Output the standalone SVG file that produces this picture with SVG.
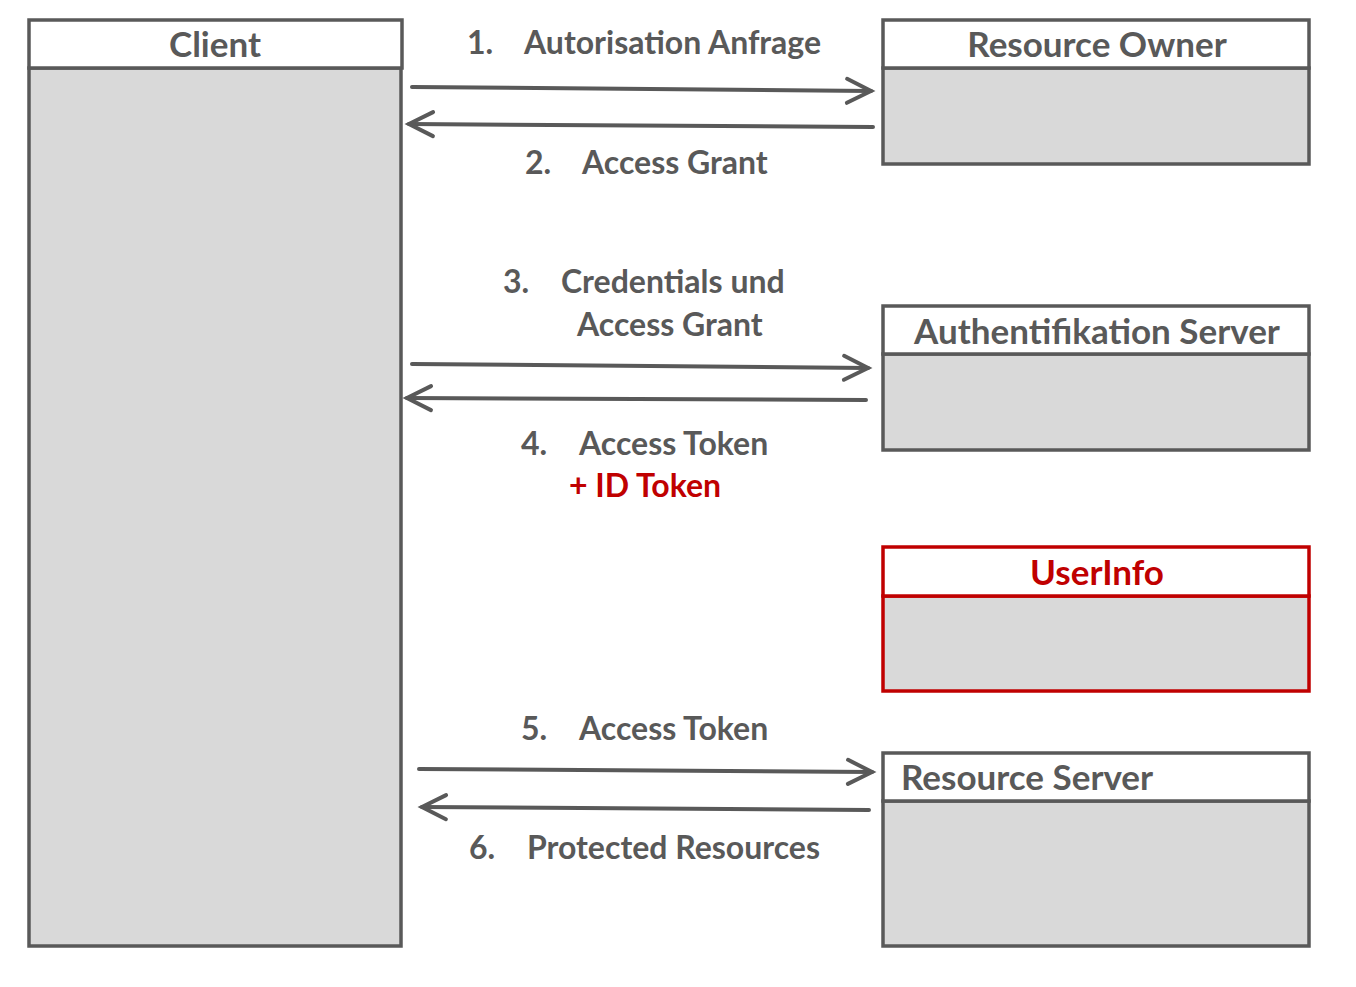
<svg xmlns="http://www.w3.org/2000/svg" width="1356" height="987" viewBox="0 0 1356 987">
<style>
.hdr{fill:#ffffff;stroke:#595959;stroke-width:3.5}
.body{fill:#d9d9d9;stroke:#595959;stroke-width:3.5}
.rhdr{fill:#ffffff;stroke:#c00000;stroke-width:3.5}
.rbody{fill:#d9d9d9;stroke:#c00000;stroke-width:3.5}
text{font-family:Lato,"Open Sans","Liberation Sans",sans-serif;font-weight:bold;font-size:32px;fill:#595959}
.h{font-size:35px}
.red{fill:#c00000}
.c{text-anchor:middle}
.conn{fill:none;stroke:#595959;stroke-width:4;stroke-linecap:round}
</style>
<defs>
<marker id="arr" markerUnits="userSpaceOnUse" viewBox="-30 -16 34 32" refX="0" refY="0" markerWidth="34" markerHeight="32" orient="auto" overflow="visible">
<path d="M-24,-12 L0,0 L-24,12" fill="none" stroke="#595959" stroke-width="4" stroke-linecap="round" stroke-linejoin="miter"/>
</marker>
</defs>

<g id="client">
<rect class="body" x="29" y="68" width="372" height="878"/>
<rect class="hdr" x="29" y="20" width="373" height="48"/>
<text class="c h" x="215" y="57">Client</text>
</g>

<g id="resource-owner">
<rect class="body" x="883" y="68" width="426" height="96"/>
<rect class="hdr" x="883" y="20" width="426" height="48"/>
<text class="c h" x="1097" y="57">Resource Owner</text>
</g>

<g id="auth-server">
<rect class="body" x="883" y="354" width="426" height="96"/>
<rect class="hdr" x="883" y="306" width="426" height="48"/>
<text class="c h" x="1097" y="344">Authentifikation Server</text>
</g>

<g id="userinfo">
<rect class="rbody" x="883" y="596" width="426" height="95"/>
<rect class="rhdr" x="883" y="547" width="426" height="49"/>
<text class="c h red" x="1097" y="585">UserInfo</text>
</g>

<g id="resource-server">
<rect class="body" x="883" y="801" width="426" height="145"/>
<rect class="hdr" x="883" y="753" width="426" height="48"/>
<text class="h" x="901" y="790">Resource Server</text>
</g>

<g id="connectors">
<line class="conn" x1="412" y1="87" x2="871" y2="91" marker-end="url(#arr)"/>
<line class="conn" x1="873" y1="127" x2="409" y2="124" marker-end="url(#arr)"/>
<line class="conn" x1="412" y1="364" x2="868" y2="368" marker-end="url(#arr)"/>
<line class="conn" x1="866" y1="400" x2="407" y2="398" marker-end="url(#arr)"/>
<line class="conn" x1="419" y1="769" x2="872" y2="772" marker-end="url(#arr)"/>
<line class="conn" x1="869" y1="810" x2="422" y2="807" marker-end="url(#arr)"/>
</g>

<g id="labels">
<text x="467" y="54">1.</text><text x="524" y="54">Autorisation Anfrage</text>
<text x="525" y="174">2.</text><text x="582" y="174">Access Grant</text>
<text x="503" y="293">3.</text><text x="561" y="293">Credentials und</text>
<text x="577" y="336">Access Grant</text>
<text x="521" y="455">4.</text><text x="579" y="455">Access Token</text>
<text class="red" x="569" y="497">+ ID Token</text>
<text x="521" y="740">5.</text><text x="579" y="740">Access Token</text>
<text x="469" y="859">6.</text><text x="527" y="859">Protected Resources</text>
</g>
</svg>
